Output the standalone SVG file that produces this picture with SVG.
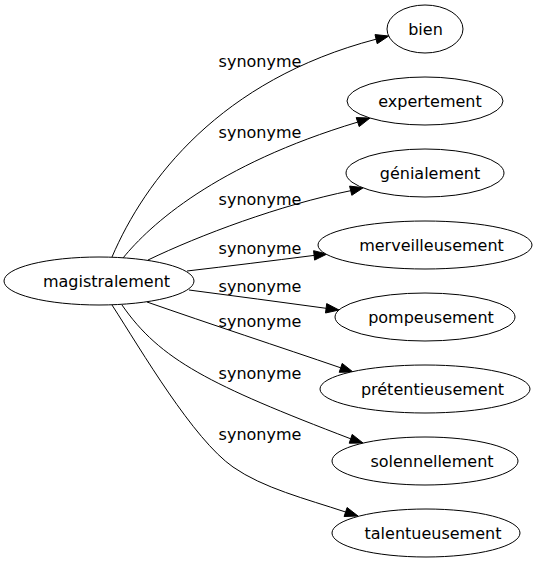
<svg xmlns="http://www.w3.org/2000/svg" width="536" height="563" viewBox="0 0 536 563">
<style>
.n ellipse{fill:#fff;stroke:#000;stroke-width:1}
text{font-family:"DejaVu Sans",Verdana,sans-serif;font-size:16px;fill:#000;text-anchor:middle}
.e path{fill:none;stroke:#000;stroke-width:1}
.e polygon{fill:#000;stroke:#000;stroke-width:1}
</style>
<rect width="536" height="563" fill="#fff"/>
<g id="connectors" class="e">
<path d="M112,257 C145,180 220,80 376.1,39.2"/>
<polygon points="375.0,34.6 388.7,36 377.2,43.7"/>
<path d="M123,258 C150,225 215,165 357.7,122.1"/>
<polygon points="356.2,117.6 370,118 359.2,126.6"/>
<path d="M148,260 C200,235 280,205 350.7,190.7"/>
<polygon points="349.6,186.1 363.3,187.7 351.8,195.3"/>
<path d="M187,271 C230,266 270,261 314.1,255.4"/>
<polygon points="313.6,250.7 327,254 314.6,260.1"/>
<path d="M189,290 C235,296 280,302 326.1,308.3"/>
<polygon points="326.7,303.6 339,310 325.5,313.0"/>
<path d="M147,302 C210,324 280,347 340.7,367.8"/>
<polygon points="342.2,363.4 353,372 339.2,372.3"/>
<path d="M122,305 C160,360 210,385 350.7,438.8"/>
<polygon points="352.2,434.4 363,443 349.2,443.2"/>
<path d="M112,305 C142,351.5 193,439 233,467 C263,488 305.6,498.8 345.6,512"/>
<polygon points="347.1,507.5 358,516 344.1,516.5"/>
<text x="260" y="66.5">synonyme</text>
<text x="260" y="137.5">synonyme</text>
<text x="260" y="204.5">synonyme</text>
<text x="260" y="253.5">synonyme</text>
<text x="260" y="291.5">synonyme</text>
<text x="260" y="326.5">synonyme</text>
<text x="260" y="378.5">synonyme</text>
<text x="260" y="439.5">synonyme</text>
</g>
<g id="magistralement" class="n"><ellipse cx="99" cy="281" rx="95" ry="24"/><text x="106.5" y="286.5">magistralement</text></g>
<g id="bien" class="n"><ellipse cx="425" cy="29" rx="38" ry="24"/><text x="425.5" y="34.5">bien</text></g>
<g id="expertement" class="n"><ellipse cx="425" cy="101" rx="78" ry="24"/><text x="430" y="106.5">expertement</text></g>
<g id="genialement" class="n"><ellipse cx="425" cy="173" rx="79" ry="24"/><text x="430" y="178.5">génialement</text></g>
<g id="merveilleusement" class="n"><ellipse cx="425" cy="245" rx="107" ry="24"/><text x="431.5" y="250.5">merveilleusement</text></g>
<g id="pompeusement" class="n"><ellipse cx="425" cy="317" rx="90" ry="24"/><text x="431" y="322.5">pompeusement</text></g>
<g id="pretentieusement" class="n"><ellipse cx="425" cy="389" rx="105" ry="24"/><text x="432.5" y="394.5">prétentieusement</text></g>
<g id="solennellement" class="n"><ellipse cx="425" cy="461" rx="93" ry="24"/><text x="432" y="466.5">solennellement</text></g>
<g id="talentueusement" class="n"><ellipse cx="426" cy="533" rx="94" ry="24"/><text x="433" y="538.5">talentueusement</text></g>
</svg>
